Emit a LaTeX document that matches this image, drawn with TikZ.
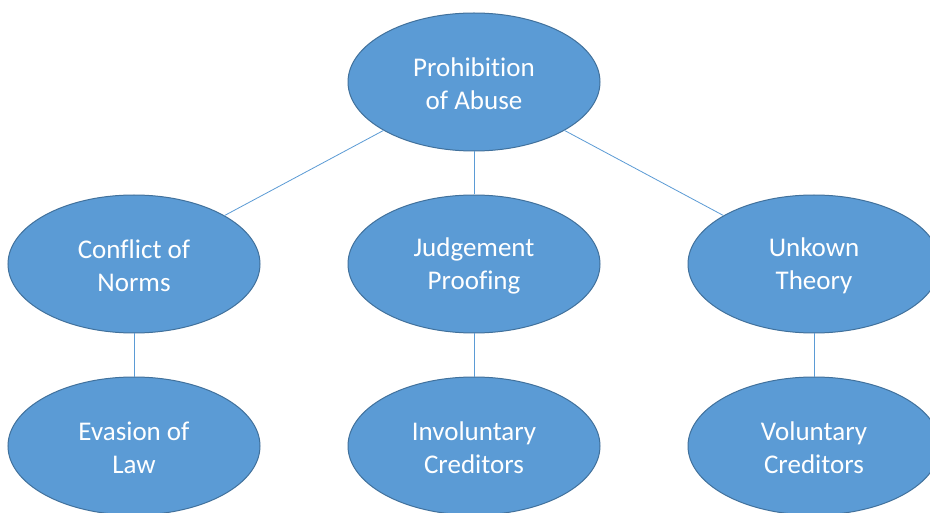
\documentclass[tikz,border=0pt]{standalone}
\usepackage{fontspec}
\setmainfont{Carlito}[Ligatures={NoCommon,NoRare,NoContextual}]
\usetikzlibrary{shapes.geometric}
\definecolor{fillblue}{HTML}{5B9BD5}
\definecolor{edgeblue}{HTML}{41719C}
\definecolor{lineblue}{HTML}{5B9BD5}
\newcommand{\ovaltext}[2]{\rule{0pt}{22pt}#1\\#2}
\tikzset{
  oval/.style={ellipse, draw=edgeblue, line width=1pt, fill=fillblue,
    minimum width=252pt, minimum height=138pt, inner sep=0pt,
    text=white, align=center, font=\fontsize{27}{33}\selectfont},
  link/.style={draw=lineblue, line width=0.8pt}
}
\begin{document}
\begin{tikzpicture}[x=1pt,y=-1pt]
\useasboundingbox (0,0) rectangle (930,513);
\clip (0,0) rectangle (930,513);
\fill[white] (0,0) rectangle (930,513);
\node[oval] (top) at (474,82) {\ovaltext{Prohibi\kern0pt tion}{of Abuse}};
\node[oval] (conf) at (134,264) {\ovaltext{Conf\kern0pt lict of}{Norms}};
\node[oval] (judg) at (474,264) {\ovaltext{Judgement}{Proof\kern0pt ing}};
\node[oval] (unk) at (814,264) {\ovaltext{Unkown}{Theory}};
\node[oval] (eva) at (134,446) {\ovaltext{Evasion of}{Law}};
\node[oval] (inv) at (474,446) {\ovaltext{Involuntary}{Creditors}};
\node[oval] (vol) at (814,446) {\ovaltext{Voluntary}{Creditors}};
\draw[link] (top) -- (conf);
\draw[link] (top) -- (judg);
\draw[link] (top) -- (unk);
\draw[link] (conf) -- (eva);
\draw[link] (judg) -- (inv);
\draw[link] (unk) -- (vol);
\end{tikzpicture}
\end{document}
